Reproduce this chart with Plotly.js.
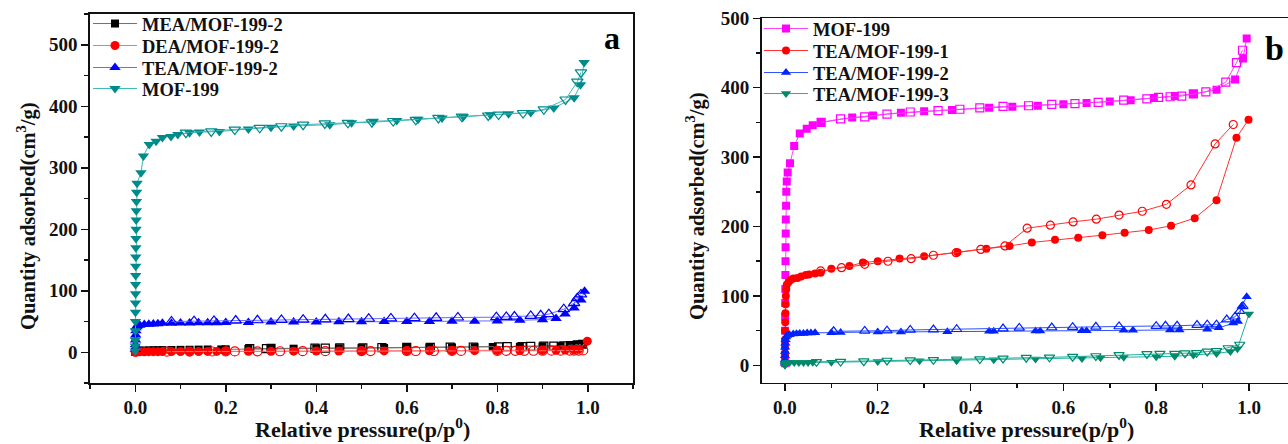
<!DOCTYPE html>
<html>
<head>
<meta charset="utf-8">
<script src="https://cdn.plot.ly/plotly-3.0.1.min.js"></script>
<style>html,body{margin:0;padding:0;background:#fff;}#chart{width:1288px;height:444px;}</style>
</head>
<body>
<div id="chart"></div>
<script>
// ---------- Panel a ----------
const aMEA_adsX = [0.00005,0.0005,0.002,0.005,0.01,0.02,0.03,0.04,0.05,0.06,0.08,0.1,0.12,0.14,0.16,0.19,0.2,0.25,0.3,0.35,0.4,0.45,0.5,0.55,0.6,0.65,0.7,0.75,0.79,0.85,0.9,0.94,0.96,0.97,0.98,0.99];
const aMEA_adsY = [0.5,1,1.5,2,2.5,2.8,3,3.2,3.3,3.5,3.7,3.9,4.1,4.3,4.5,4.6,4.8,5.2,5.5,5.8,6.1,6.4,6.7,7,7.3,7.6,7.9,8.2,8.6,9,9.5,10,10.5,11.2,12,13.5];
const aMEA_desX = [0.988,0.977,0.962,0.947,0.925,0.903,0.874,0.855,0.822,0.803,0.747,0.696,0.652,0.6,0.545,0.503,0.452,0.42,0.397,0.3,0.29,0.253];
const aMEA_desY = [13,12,11,10.5,10,9.8,9.5,9.3,9,8.8,8.5,8.2,8,7.8,7.5,7.2,7,6.8,6.6,6.2,6,5.8];

const aDEA_adsX = [0.00005,0.0005,0.002,0.005,0.01,0.02,0.03,0.04,0.05,0.06,0.08,0.1,0.12,0.14,0.16,0.18,0.2,0.25,0.3,0.35,0.4,0.45,0.5,0.55,0.6,0.65,0.7,0.75,0.8,0.85,0.9,0.93,0.95,0.97,0.98,0.999];
const aDEA_adsY = [0,0.3,0.5,0.7,0.8,0.9,1,1,1,1.1,1.2,1.2,1.3,1.3,1.4,1.4,1.5,1.6,1.7,1.8,1.9,2,2.1,2.2,2.3,2.4,2.5,2.6,2.7,2.8,3,3.2,3.5,4,5,18];
const aDEA_desX = [0.99,0.98,0.97,0.96,0.94,0.92,0.9,0.88,0.86,0.84,0.82,0.8,0.72,0.7,0.66,0.62,0.6,0.52,0.5,0.42,0.37,0.32,0.27,0.22,0.2,0.17,0.12,0.07];
const aDEA_desY = [3,2.8,2.7,2.6,2.5,2.5,2.4,2.4,2.3,2.3,2.2,2.2,2.1,2.1,2,2,2,1.9,1.9,1.8,1.7,1.6,1.5,1.4,1.3,1.2,1.1,1];

const aTEA_adsX = [0.0001,0.0003,0.0006,0.001,0.0015,0.002,0.003,0.005,0.01,0.02,0.03,0.04,0.05,0.06,0.08,0.1,0.12,0.14,0.16,0.18,0.2,0.25,0.3,0.35,0.4,0.45,0.5,0.55,0.6,0.65,0.7,0.75,0.8,0.85,0.9,0.93,0.95,0.97,0.985,0.993];
const aTEA_adsY = [5,12,20,28,35,40,42,43,44,45,45.5,46,46.5,47,47,47.5,47.5,48,48,48,48.5,48.5,49,49,49,49.5,49.5,50,50,50,50.5,50.5,51,52,53,55,62,72,85,99];
const aTEA_desX = [0.985,0.977,0.97,0.947,0.914,0.896,0.874,0.838,0.82,0.798,0.713,0.665,0.617,0.565,0.516,0.471,0.42,0.371,0.323,0.27,0.222,0.174,0.13,0.08];
const aTEA_desY = [94,88,80,70,62,60,59,58,57.5,57,56.5,56,55.5,55,54.5,54,53.5,53,52.5,52,51.5,51,50.5,50];

const aMOF_adsX = [0.00002,0.0001,0.0002,0.0003,0.0004,0.0005,0.0006,0.0007,0.0008,0.0009,0.001,0.0012,0.0014,0.0016,0.0018,0.002,0.0023,0.0026,0.003,0.004,0.0126,0.018,0.031,0.046,0.06,0.079,0.094,0.12,0.142,0.186,0.25,0.3,0.35,0.43,0.478,0.526,0.578,0.625,0.678,0.725,0.785,0.825,0.874,0.925,0.97,0.984,0.992];
const aMOF_adsY = [2,10,20,35,50,65,80,95,110,125,140,155,170,185,200,215,230,245,260,275,292,319,338,343,349,351,354,357,358,359,363,366,368,370,373,375.6,377,379,381,383,386,388,390,397,414,435,471];
const aMOF_desX = [0.985,0.977,0.951,0.903,0.857,0.803,0.78,0.722,0.67,0.62,0.57,0.523,0.47,0.419,0.371,0.323,0.275,0.22,0.168,0.112];
const aMOF_desY = [455,440,411,395,389,386.5,385,383,381,378,376,374,373,372,370,367.5,365,362,359,357];

// ---------- Panel b ----------
const bMOF_adsX = [0.00002,0.0001,0.0002,0.0003,0.0005,0.0007,0.0009,0.0011,0.0013,0.0015,0.0018,0.002,0.0025,0.003,0.004,0.006,0.011,0.02,0.032,0.047,0.06,0.078,0.145,0.19,0.25,0.3,0.36,0.44,0.49,0.545,0.6,0.65,0.7,0.745,0.795,0.84,0.88,0.93,0.97,0.987,0.995];
const bMOF_adsY = [3,15,30,50,70,90,110,130,150,170,190,210,230,250,265,278,291,316,334,341,346,350,357,360,364,366,368,371,372.5,374,376,378,380,382,385,388,391,397,412,442,471];
const bMOF_desX = [0.986,0.973,0.95,0.907,0.88,0.855,0.83,0.805,0.78,0.73,0.675,0.625,0.575,0.525,0.47,0.42,0.377,0.33,0.27,0.22,0.172,0.12,0.078];
const bMOF_desY = [454,436,408,394,391,388,387,386,384,382,379,377,376,374,373,371,369,367,365,362,358,355,350];

const bTEA1_adsX = [0.00002,0.00005,0.0001,0.0002,0.0004,0.0007,0.001,0.0015,0.002,0.003,0.004,0.008,0.012,0.018,0.027,0.035,0.045,0.052,0.065,0.077,0.1,0.139,0.168,0.2,0.247,0.3,0.372,0.434,0.484,0.532,0.582,0.632,0.684,0.732,0.784,0.832,0.883,0.93,0.973,0.999];
const bTEA1_adsY = [5,15,25,37,50,62,75,88,100,110,116,120,123,125,126,128,130,131,132.5,133.5,139,143,148,150,154,157,163,168,172,177,181,184,187.5,191,195,201,212,238,328,354];
const bTEA1_desX = [0.966,0.927,0.875,0.822,0.77,0.72,0.671,0.621,0.572,0.522,0.474,0.422,0.369,0.32,0.272,0.222,0.172,0.122,0.077];
const bTEA1_desY = [347,319,260,232,222,216.5,210.6,206.7,202,197.6,172,167,162.4,158.6,153.7,150,145.5,140.7,136];

const bTEA2_adsX = [0.00002,0.00005,0.0001,0.0003,0.0006,0.001,0.0015,0.0025,0.005,0.01,0.018,0.025,0.032,0.04,0.048,0.056,0.065,0.1,0.12,0.2,0.25,0.35,0.44,0.45,0.54,0.55,0.64,0.65,0.73,0.75,0.83,0.85,0.91,0.935,0.966,0.976,0.984,0.995];
const bTEA2_adsY = [3,8,14,20,26,32,37,41,43,44,45,45.5,46,46,46.5,46.5,47,47,47.5,48,48,48.5,49,49,49.5,49.5,50,50,50.5,50.5,51,51,52,54,61,63,85,99];
const bTEA2_desX = [0.987,0.98,0.97,0.952,0.93,0.91,0.888,0.845,0.82,0.8,0.72,0.67,0.62,0.575,0.505,0.47,0.37,0.32,0.27,0.22,0.172,0.105];
const bTEA2_desY = [85,78,70,66,58.6,58.6,58,57,57,56.5,56,55.5,55,54.5,54,53,52,51.5,51,50,49.5,49];

const bTEA3_adsX = [0.00002,0.0001,0.0005,0.001,0.003,0.005,0.01,0.02,0.03,0.04,0.05,0.06,0.1,0.2,0.29,0.37,0.45,0.54,0.64,0.68,0.73,0.8,0.84,0.88,0.93,0.96,0.975,1.0];
const bTEA3_adsY = [0,1,2,3,3.5,4,4,4,4,4,4.2,4.4,4.5,5.5,6.5,7,8,9,10,11,11.5,12.5,13,15,17,20,24,74];
const bTEA3_desX = [0.98,0.955,0.93,0.91,0.887,0.862,0.84,0.808,0.78,0.72,0.67,0.62,0.57,0.52,0.47,0.42,0.37,0.32,0.27,0.22,0.17,0.12,0.068];
const bTEA3_desY = [30,25,21,20,18,17.5,17,17,16.5,15,13.5,12.5,11.5,11,10,9,8.5,8,7.5,7,6,5.5,5];

const FONT = 'Liberation Serif, "Times New Roman", serif';

function pair(name, ax, ay, dx, dy, color, lineColor, sym, size, xa, ya, leg) {
  const common = {mode: 'lines+markers', xaxis: xa, yaxis: ya, hoverinfo: 'skip'};
  return [
    Object.assign({}, common, {x: ax, y: ay, name: name, showlegend: true, legend: leg,
      line: {color: lineColor, width: 1},
      marker: {symbol: sym, size: size, color: color, line: {width: 0}}}),
    Object.assign({}, common, {x: dx, y: dy, name: name + ' (desorption)', showlegend: false,
      line: {color: lineColor, width: 1},
      marker: {symbol: sym + '-open', size: size, color: color, line: {width: 1.2, color: color}}})
  ];
}

const traces = [].concat(
  pair('MEA/MOF-199-2', aMEA_adsX, aMEA_adsY, aMEA_desX, aMEA_desY, '#000000', '#707070', 'square', 8, 'x', 'y', 'legend'),
  pair('DEA/MOF-199-2', aDEA_adsX, aDEA_adsY, aDEA_desX, aDEA_desY, '#ff0000', '#ff7070', 'circle', 9, 'x', 'y', 'legend2'),
  pair('TEA/MOF-199-2', aTEA_adsX, aTEA_adsY, aTEA_desX, aTEA_desY, '#0000ff', '#6a6aff', 'triangle-up', 10, 'x', 'y', 'legend3'),
  pair('MOF-199', aMOF_adsX, aMOF_adsY, aMOF_desX, aMOF_desY, '#008b8b', '#40b8b8', 'triangle-down', 10, 'x', 'y', 'legend4'),
  pair('MOF-199', bMOF_adsX, bMOF_adsY, bMOF_desX, bMOF_desY, '#ff00ff', '#ff40ff', 'square', 8, 'x2', 'y2', 'legend5'),
  pair('TEA/MOF-199-1', bTEA1_adsX, bTEA1_adsY, bTEA1_desX, bTEA1_desY, '#ff0000', '#ff3030', 'circle', 8, 'x2', 'y2', 'legend6'),
  pair('TEA/MOF-199-2', bTEA2_adsX, bTEA2_adsY, bTEA2_desX, bTEA2_desY, '#0022ff', '#3050ff', 'triangle-up', 9, 'x2', 'y2', 'legend7'),
  pair('TEA/MOF-199-3', bTEA3_adsX, bTEA3_adsY, bTEA3_desX, bTEA3_desY, '#008a6a', '#20b0a0', 'triangle-down', 9, 'x2', 'y2', 'legend8')
);

const tickFont = {family: FONT, size: 19, color: '#111', weight: 'bold'};
function axis(extra) {
  return Object.assign({
    showgrid: false, zeroline: false, showline: true, linecolor: '#111', linewidth: 1.6,
    ticks: 'outside', ticklen: 7, tickwidth: 1.5, tickcolor: '#111',
    tickfont: tickFont, fixedrange: true
  }, extra);
}

const W = 1288, H = 444;
const px = v => v / W, py = v => 1 - v / H;

function leg(x, y) {
  return {x: px(x), y: py(y), xanchor: 'left', yanchor: 'middle', bgcolor: 'rgba(0,0,0,0)', borderwidth: 0,
    font: {family: FONT, size: 18.5, color: '#111', weight: 'bold'}, tracegroupgap: 0, itemwidth: 44};
}

const layout = {
  width: W, height: H,
  margin: {l: 0, r: 0, t: 0, b: 0},
  paper_bgcolor: '#fff', plot_bgcolor: '#fff',
  showlegend: true,
  xaxis: axis({domain: [px(90), px(633)], range: [-0.1, 1.1], dtick: 0.2, tick0: 0, tickformat: '.1f', mirror: true, anchor: 'y',
    minor: {dtick: 0.1, ticks: 'outside', ticklen: 4, tickcolor: '#111'}}),
  yaxis: axis({domain: [py(383), py(14)], range: [-50, 550], dtick: 100, tick0: 0, mirror: true, anchor: 'x',
    minor: {dtick: 50, ticks: 'outside', ticklen: 4, tickcolor: '#111'}}),
  xaxis2: axis({domain: [px(761.7), 1], range: [-0.05, 1.084], dtick: 0.2, tick0: 0, tickformat: '.1f', mirror: true, anchor: 'y2',
    minor: {dtick: 0.1, ticks: 'outside', ticklen: 4, tickcolor: '#111'}}),
  yaxis2: axis({domain: [py(382.7), py(18.3)], range: [-25, 500], dtick: 100, tick0: 0, mirror: false, anchor: 'x2',
    minor: {dtick: 50, ticks: 'outside', ticklen: 4, tickcolor: '#111'}}),
  legend: leg(88, 24), legend2: leg(88, 46), legend3: leg(88, 68), legend4: leg(88, 89),
  legend5: leg(759, 29), legend6: leg(759, 51), legend7: leg(759, 73), legend8: leg(759, 94),
  annotations: [
    {text: 'Relative pressure(p/p<sup>0</sup>)', xref: 'paper', yref: 'paper', x: px(362), y: 0, showarrow: false,
      font: {family: FONT, size: 22, color: '#111', weight: 'bold'}, xanchor: 'center', yanchor: 'bottom'},
    {text: 'Relative pressure(p/p<sup>0</sup>)', xref: 'paper', yref: 'paper', x: px(1026), y: 0, showarrow: false,
      font: {family: FONT, size: 22, color: '#111', weight: 'bold'}, xanchor: 'center', yanchor: 'bottom'},
    {text: 'Quantity adsorbed(cm<sup>3</sup>/g)', xref: 'paper', yref: 'paper', x: px(26), y: py(216), showarrow: false, textangle: -90,
      font: {family: FONT, size: 20.5, color: '#111', weight: 'bold'}, xanchor: 'center', yanchor: 'middle'},
    {text: 'Quantity adsorbed(cm<sup>3</sup>/g)', xref: 'paper', yref: 'paper', x: px(696), y: py(206), showarrow: false, textangle: -90,
      font: {family: FONT, size: 20.5, color: '#111', weight: 'bold'}, xanchor: 'center', yanchor: 'middle'},
    {text: 'a', xref: 'paper', yref: 'paper', x: px(612), y: py(38), showarrow: false,
      font: {family: FONT, size: 32, color: '#000', weight: 'bold'}, xanchor: 'center', yanchor: 'middle'},
    {text: 'b', xref: 'paper', yref: 'paper', x: px(1274), y: py(48), showarrow: false,
      font: {family: FONT, size: 34, color: '#000', weight: 'bold'}, xanchor: 'center', yanchor: 'middle'}
  ]
};

Plotly.newPlot('chart', traces, layout, {staticPlot: true, displayModeBar: false});
</script>
</body>
</html>
